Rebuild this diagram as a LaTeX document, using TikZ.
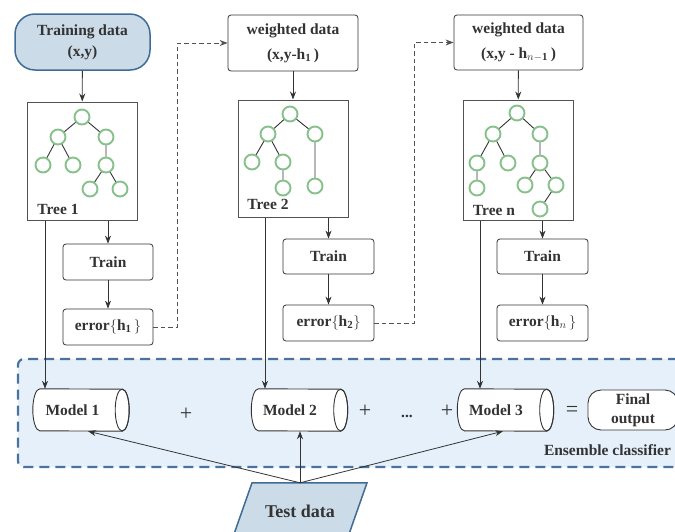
\documentclass[tikz,border=0pt]{standalone}
\usepackage{fontspec}
\setmainfont{Liberation Serif}
\usetikzlibrary{arrows.meta,calc}
\pgfdeclarelayer{back}
\pgfdeclarelayer{mid}
\pgfsetlayers{back,mid,main}
\definecolor{tdfill}{HTML}{CBDBE8}
\definecolor{tdborder}{HTML}{3F6B94}
\definecolor{ensfill}{HTML}{E6F0FA}
\definecolor{ensborder}{HTML}{4A729C}
\definecolor{leaf}{HTML}{86C08A}
\definecolor{ink}{HTML}{333333}
\tikzset{
 txt/.style={font=\fontsize{15.5}{20}\selectfont\bfseries, text=ink, align=center},
 databox/.style={txt, draw=ink, line width=0.8pt, rounded corners=3pt, minimum width=130pt, minimum height=56pt, inner sep=0pt},
 treebox/.style={draw=ink!85, line width=1pt, minimum width=110pt, minimum height=118pt, inner sep=0pt},
 stepbox/.style={txt, draw=ink, line width=0.8pt, rounded corners=3pt, minimum width=91pt, minimum height=36pt, inner sep=0pt},
 leafnode/.style={circle, draw=leaf, line width=1.9pt, minimum size=15pt, inner sep=0pt},
 edge/.style={draw=ink, line width=0.9pt},
 arr/.style={draw=ink, line width=0.8pt, -{Stealth[length=8pt,width=6pt]}},
 dasharr/.style={draw=ink!85, line width=0.9pt, dash pattern=on 4.5pt off 3pt, -{Stealth[length=8pt,width=6pt]}},
 modelnode/.style={font=\fontsize{15.5}{20}\selectfont\bfseries, text=ink, minimum width=96pt, minimum height=42pt, inner sep=0pt},
 op/.style={font=\fontsize{22}{22}\selectfont, text=ink},
}
\newcommand\drawcyl[1]{%
 \begin{pgfonlayer}{mid}
 \draw[ink, line width=0.9pt, fill=white] ([xshift=7pt]#1.north west) arc[start angle=90,end angle=270,x radius=7pt,y radius=21pt] -- ([xshift=-7pt]#1.south east) arc[start angle=-90,end angle=90,x radius=7pt,y radius=21pt] -- cycle;
 \draw[ink, line width=0.9pt] ([xshift=-7pt]#1.east) ellipse[x radius=7pt,y radius=21pt];
 \end{pgfonlayer}}
\begin{document}
\begin{tikzpicture}[x=1pt,y=-1pt]
\useasboundingbox (0,0) rectangle (675,531);
\clip (0,0) rectangle (675,531);
% ensemble box
\begin{pgfonlayer}{back}
\node[draw=ensborder, fill=ensfill, line width=2.2pt, dash pattern=on 10pt off 6pt, rounded corners=6pt, minimum width=682pt, minimum height=108pt, inner sep=0pt] (ens) at (359,413) {};
\end{pgfonlayer}
\node[txt] (enslabel) at (607.5,450) {Ensemble classifier};
% data boxes
\node[txt, draw=tdborder, fill=tdfill, line width=1.5pt, rounded corners=20pt, minimum width=135pt, minimum height=56pt, inner sep=0pt, font=\fontsize{15.5}{21}\selectfont\bfseries] (td0) at (82.5,42) {Training data\\(x,y)};
\node[databox] (wd1) at (293,43) {weighted data\\[5pt](x,y-h$_{\mathbf{1}}$\,)};
\node[databox, minimum width=129pt, minimum height=55pt] (wdn) at (518.5,42.5) {weighted data\\[5pt](x,y - h$_{n-\mathbf{1}}$\,)};
% tree boxes
\node[treebox] (t1) at (82,161) {};
\node[treebox, minimum height=117pt] (t2) at (293,158.5) {};
\node[treebox, minimum height=120pt] (tn) at (518,160) {};
\node[txt] (t1lab) at (58,209) {Tree 1};
\node[txt] (t2lab) at (268,204) {Tree 2};
\node[txt] (tnlab) at (494,210) {Tree n};
% tree 1
\node[leafnode] (a0) at (82,117) {};
\node[leafnode] (a1) at (58,137) {};
\node[leafnode] (a2) at (106,137) {};
\node[leafnode] (a3) at (43,165) {};
\node[leafnode] (a4) at (73,165) {};
\node[leafnode] (a5) at (106,165) {};
\node[leafnode] (a6) at (90,189) {};
\node[leafnode] (a7) at (120,189) {};
\draw[edge] (a0)--(a1) (a0)--(a2) (a1)--(a3) (a1)--(a4) (a2)--(a5) (a5)--(a6) (a5)--(a7);
% tree 2
\node[leafnode] (b0) at (290,114) {};
\node[leafnode] (b1) at (268,134) {};
\node[leafnode] (b2) at (315,134) {};
\node[leafnode] (b3) at (252,162) {};
\node[leafnode] (b4) at (283,162) {};
\node[leafnode] (b5) at (283,188) {};
\node[leafnode] (b6) at (315,186) {};
\draw[edge] (b0)--(b1) (b0)--(b2) (b1)--(b3) (b1)--(b4) (b4)--(b5) (b2)--(b6);
% tree n
\node[leafnode] (c0) at (517,113) {};
\node[leafnode] (c1) at (493,134) {};
\node[leafnode] (c2) at (540,134) {};
\node[leafnode] (c3) at (477,163) {};
\node[leafnode] (c4) at (508,163) {};
\node[leafnode] (c5) at (540,163) {};
\node[leafnode] (c6) at (477,188) {};
\node[leafnode] (c7) at (525,185) {};
\node[leafnode] (c8) at (556,185) {};
\node[leafnode] (c9) at (540,209) {};
\draw[edge] (c0)--(c1) (c0)--(c2) (c1)--(c3) (c1)--(c4) (c2)--(c5) (c3)--(c6) (c5)--(c7) (c5)--(c8) (c8)--(c9);
% train / error
\node[stepbox, minimum width=90pt] (tr1) at (108,262) {Train};
\node[stepbox, minimum width=90pt] (e1) at (108,327) {error$\{$h$_{\mathbf{1}}\,\}$};
\node[stepbox, minimum height=35pt] (tr2) at (328.5,256.5) {Train};
\node[stepbox] (e2) at (328.5,323) {error$\{$h$_{\mathbf{2}}\}$};
\node[stepbox, minimum height=35pt] (trn) at (542.5,256.5) {Train};
\node[stepbox] (en) at (542.5,323) {error$\{$h$_{n}\,\}$};
% models
\node[modelnode] (m1) at (81,410) {Model 1\kern17pt};
\node[modelnode] (m2) at (299.5,410) {Model 2\kern19pt};
\node[modelnode] (m3) at (505.5,410) {Model 3\kern19pt};
\drawcyl{m1}\drawcyl{m2}\drawcyl{m3}
\node[txt, draw=ink, fill=white, line width=0.9pt, rounded corners=13pt, minimum width=90pt, minimum height=40pt, inner sep=0pt, font=\fontsize{15.5}{19}\selectfont\bfseries] (fo) at (633,410) {Final\\output};
\node[op] (p1) at (186,414) {+};
\node[op] (p2) at (365,411) {+};
\node[txt] (dots) at (407,416) {...};
\node[op] (p3) at (447,411) {+};
\node[op] (eq) at (572,411) {=};
% test data
\node[font=\fontsize{18}{20}\selectfont\bfseries, text=ink, minimum height=56pt, inner sep=0pt] (td) at (300,511) {Test data};
\begin{pgfonlayer}{mid}
\draw[tdborder, fill=tdfill, line width=1.5pt] ($(td.north)+(-48,0)$) -- ($(td.north)+(67,0)$) -- ($(td.north)+(47,57)$) -- ($(td.north)+(-68,57)$) -- cycle;
\end{pgfonlayer}
% arrows
\draw[arr] (td0) -- (t1);
\draw[arr] (wd1) -- (t2);
\draw[arr] (wdn) -- (tn);
\draw[arr] (t1.south -| tr1) -- (tr1);
\draw[arr] (tr1) -- (e1);
\draw[arr] (t2.south -| tr2) -- (tr2);
\draw[arr] (tr2) -- (e2);
\draw[arr] (tn.south -| trn) -- (trn);
\draw[arr] (trn) -- (en);
\draw[dasharr] (e1.east) -- ++(24,0) |- (wd1.west);
\draw[dasharr] (e2.east) -- ++(40,0) |- (wdn.west);
\draw[arr] ([xshift=-37pt]t1.south) -- ([xshift=-36pt]m1.north);
\draw[arr] ([xshift=-28pt]t2.south) -- ([xshift=-34.5pt]m2.north);
\draw[arr] ([xshift=-38pt]tn.south) -- ([xshift=-25.5pt]m3.north);
\draw[arr] (td.north) -- ([xshift=7pt]m1.south);
\draw[arr] (td.north) -- (m2.south -| td.north);
\draw[arr] (td.north) -- ([xshift=-2.5pt]m3.south);
\end{tikzpicture}
\end{document}
